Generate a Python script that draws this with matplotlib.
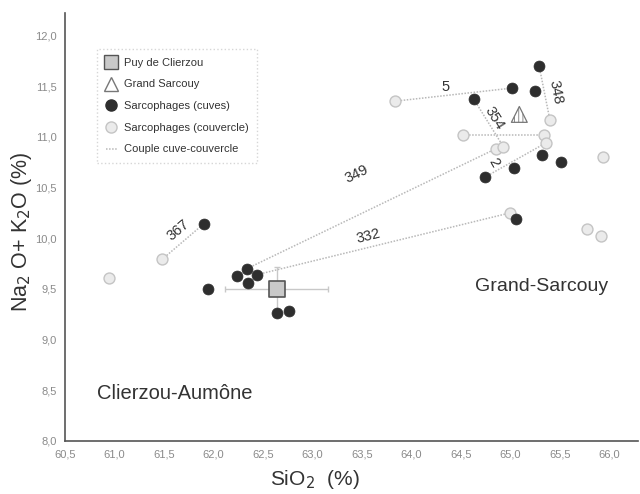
import matplotlib
matplotlib.use("Agg")
import matplotlib.pyplot as plt
from matplotlib.lines import Line2D

plt.rcParams['font.family'] = ['Liberation Sans', 'DejaVu Sans']
plt.rcParams['hatch.color'] = '#888888'
plt.rcParams['hatch.linewidth'] = 0.6

# ---- data ----
# Sarcophages (cuves) - dark
cuve_x = [61.90, 61.94, 62.34, 62.24, 62.44, 62.35, 62.64, 62.76,
          65.29, 65.02, 65.25, 64.63, 65.32, 65.51, 65.04, 64.74, 65.06]
cuve_y = [10.14, 9.50, 9.70, 9.63, 9.64, 9.56, 9.26, 9.28,
          11.70, 11.48, 11.45, 11.37, 10.82, 10.75, 10.69, 10.60, 10.19]
# Sarcophages (couvercle) - light
couv_x = [60.94, 61.48, 63.83, 65.40, 64.52, 65.34, 65.36, 64.85, 64.93,
          65.94, 65.00, 65.77, 65.92]
couv_y = [9.61, 9.79, 11.35, 11.16, 11.02, 11.02, 10.94, 10.88, 10.90,
          10.80, 10.25, 10.09, 10.02]
# Puy de Clierzou (with error bars)
clierzou_x, clierzou_y = [62.64], [9.50]
clierzou_xerr, clierzou_yerr = [0.52], [0.22]
# Grand Sarcouy
sarcouy_x, sarcouy_y = [65.09], [11.22]

# Couples cuve-couvercle
pair_x1 = [61.48, 62.34, 62.44, 63.83, 64.63, 65.29, 64.74, 64.52]
pair_y1 = [9.79, 9.70, 9.64, 11.35, 11.37, 11.70, 10.60, 11.02]
pair_x2 = [61.90, 64.85, 65.00, 65.02, 64.93, 65.40, 65.36, 65.34]
pair_y2 = [10.14, 10.88, 10.25, 11.48, 10.90, 11.16, 10.94, 11.02]
# Pair labels
lab_text = ['367', '349', '332', '5', '354', '348', '2']
lab_x = [61.64, 63.45, 63.56, 64.34, 64.84, 65.46, 64.83]
lab_y = [10.08, 10.63, 10.02, 11.49, 11.18, 11.44, 10.75]
lab_rot = [40, 26, 14, 0, -58, -79, -60]

xticks = [60.5, 61.0, 61.5, 62.0, 62.5, 63.0, 63.5, 64.0, 64.5, 65.0, 65.5, 66.0]
xticklabels = ['60,5', '61,0', '61,5', '62,0', '62,5', '63,0', '63,5',
               '64,0', '64,5', '65,0', '65,5', '66,0']
yticks = [8.0, 8.5, 9.0, 9.5, 10.0, 10.5, 11.0, 11.5, 12.0]
yticklabels = ['8,0', '8,5', '9,0', '9,5', '10,0', '10,5', '11,0', '11,5', '12,0']

# ---- figure ----
fig = plt.figure(figsize=(6.4, 4.94), dpi=100)
ax = fig.add_axes([0.1016, 0.1073, 0.8954, 0.8664])
ax.set_xlim(60.5, 66.29)
ax.set_ylim(8.0, 12.22)

line_col = '#b8b8b8'
for x1, y1, x2, y2 in zip(pair_x1, pair_y1, pair_x2, pair_y2):
    ax.plot([x1, x2], [y1, y2], linestyle=(0, (1, 1)), color=line_col,
            lw=1.1, zorder=1)

for t, x, y, r in zip(lab_text, lab_x, lab_y, lab_rot):
    ax.text(x, y, t, rotation=r, ha='center', va='center', fontsize=10.5,
            color='#333333', zorder=5)

ax.errorbar(clierzou_x, clierzou_y, xerr=clierzou_xerr, yerr=clierzou_yerr,
            fmt='none', ecolor='#c8c8c8', elinewidth=1, capsize=2.5, zorder=2)

ax.scatter(couv_x, couv_y, s=62, facecolor='#ebebeb', edgecolor='#c4c4c4',
           linewidths=1, zorder=3)
ax.scatter(cuve_x, cuve_y, s=62, facecolor='#2e2e2e', edgecolor='#2e2e2e',
           linewidths=0.5, zorder=4)
ax.scatter(clierzou_x, clierzou_y, s=120, marker='s', facecolor='#c9c9c9',
           edgecolor='#555555', linewidths=1.2, zorder=5)
ax.scatter(sarcouy_x, sarcouy_y, s=130, marker='^', facecolor='white',
           edgecolor='#777777', linewidths=0.9, hatch='||||', zorder=5)

ax.text(65.31, 9.52, 'Grand-Sarcouy', fontsize=14, color='#333333',
        ha='center', va='center')
ax.text(61.61, 8.47, 'Clierzou-Aumône', fontsize=14.5, color='#333333',
        ha='center', va='center')

ax.set_xticks(xticks)
ax.set_xticklabels(xticklabels)
ax.set_yticks(yticks)
ax.set_yticklabels(yticklabels)
ax.tick_params(length=0, labelsize=8, labelcolor='#8a8a8a', pad=6)
for s in ['top', 'right']:
    ax.spines[s].set_visible(False)
for s in ['left', 'bottom']:
    ax.spines[s].set_color('#555555')
    ax.spines[s].set_linewidth(1.2)

ax.set_xlabel('SiO$_2$  (%)', fontsize=15, color='#333333')
ax.xaxis.set_label_coords(0.436, -0.063)
ax.set_ylabel('Na$_2$ O+ K$_2$O (%)', fontsize=15.5, color='#333333')
ax.yaxis.set_label_coords(-0.055, 0.49)

handles = [
    Line2D([], [], marker='s', linestyle='none', markersize=10,
           markerfacecolor='#c9c9c9', markeredgecolor='#555555'),
    Line2D([], [], marker='^', linestyle='none', markersize=10,
           markerfacecolor='white', markeredgecolor='#777777'),
    Line2D([], [], marker='o', linestyle='none', markersize=8,
           markerfacecolor='#2e2e2e', markeredgecolor='#2e2e2e'),
    Line2D([], [], marker='o', linestyle='none', markersize=8,
           markerfacecolor='#ebebeb', markeredgecolor='#c4c4c4'),
    Line2D([], [], linestyle=(0, (1, 1)), color=line_col, lw=1.1),
]
labels = ['Puy de Clierzou', 'Grand Sarcouy', 'Sarcophages (cuves)',
          'Sarcophages (couvercle)', 'Couple cuve-couvercle']
leg = ax.legend(handles, labels, loc='upper left', bbox_to_anchor=(0.0558, 0.916),
                borderaxespad=0, fontsize=8, frameon=True, fancybox=False,
                handlelength=1.0, handletextpad=0.6, labelspacing=1.05,
                borderpad=0.8, labelcolor='#333333')
leg.get_frame().set_edgecolor('#cccccc')
leg.get_frame().set_linestyle(':')
leg.get_frame().set_linewidth(1)

fig.savefig('out.png', dpi=100)
